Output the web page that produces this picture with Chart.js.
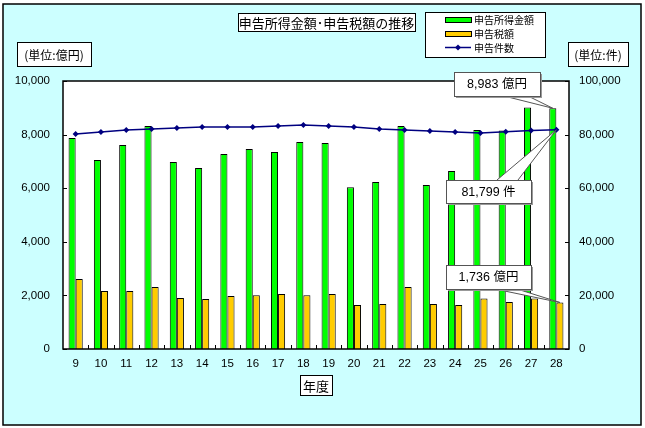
<!DOCTYPE html>
<html>
<head>
<meta charset="utf-8">
<script src="https://cdn.jsdelivr.net/npm/chart.js@4.4.1/dist/chart.umd.min.js"></script>
<style>
  html, body { margin: 0; padding: 0; background: #fff; }
  canvas { display: block; }
</style>
</head>
<body>
<canvas id="grafico" width="645" height="428" style="width:645px;height:428px"></canvas>
<script>
// dados (年度 = 平成)
const anos = ['9', '10', '11', '12', '13', '14', '15', '16', '17', '18', '19', '20', '21', '22', '23', '24', '25', '26', '27', '28'];
const rendaDeclarada = [7870, 7050, 7610, 8320, 6980, 6750, 7280, 7460, 7350, 7720, 7690, 6040, 6230, 8320, 6120, 6640, 8170, 8150, 9010, 8983];
const impostoDeclarado = [2610, 2160, 2160, 2310, 1900, 1870, 1980, 2010, 2050, 2010, 2050, 1640, 1680, 2310, 1680, 1640, 1880, 1750, 1880, 1736];
const numeroDeclaracoes = [80200, 81000, 81700, 82100, 82500, 82800, 82800, 82800, 83200, 83600, 83200, 82800, 82100, 81700, 81300, 81000, 80600, 81100, 81500, 81799];
const ticksEsquerda = [0, 2000, 4000, 6000, 8000, 10000];
const ticksDireita = [0, 20000, 40000, 60000, 80000, 100000];

const NUM = "'Liberation Sans', Arial, 'Noto Sans CJK JP', sans-serif";
const JP = "'Noto Sans CJK JP', sans-serif";
const VERDE = '#00FF00';
const AMARELO = '#FFCC00';
const AZUL = '#000080';

// Caixa com texto centralizado
function caixa(ctx, x, y, w, h, texto, fonte) {
  ctx.fillStyle = '#fff';
  ctx.fillRect(x, y, w, h);
  ctx.strokeStyle = '#000';
  ctx.lineWidth = 1;
  ctx.strokeRect(x + 0.5, y + 0.5, w, h);
  ctx.fillStyle = '#000';
  ctx.font = fonte;
  ctx.textAlign = 'center';
  ctx.textBaseline = 'middle';
  ctx.fillText(texto, x + w / 2, y + h / 2 + 1);
}

// Balão de destaque apontando para um elemento
function balao(ctx, b, baseY, bx1, bx2, ponta, texto) {
  ctx.beginPath();
  ctx.moveTo(bx1, baseY);
  ctx.lineTo(ponta.x, ponta.y);
  ctx.lineTo(bx2, baseY);
  ctx.fillStyle = '#fff';
  ctx.fill();
  ctx.strokeStyle = '#555';
  ctx.lineWidth = 1;
  ctx.stroke();
  // sombra
  ctx.fillStyle = '#999';
  ctx.fillRect(b.x + 2, b.y + 2, b.w, b.h);
  ctx.fillStyle = '#fff';
  ctx.fillRect(b.x, b.y, b.w, b.h);
  ctx.strokeStyle = '#555';
  ctx.strokeRect(b.x + 0.5, b.y + 0.5, b.w, b.h);
  ctx.fillStyle = '#000';
  ctx.font = '12.5px ' + NUM;
  ctx.textAlign = 'center';
  ctx.textBaseline = 'middle';
  ctx.fillText(texto, b.x + b.w / 2, b.y + b.h / 2 + 1);
}

const decoracao = {
  id: 'decoracao',
  beforeDraw(chart) {
    const ctx = chart.ctx;
    const a = chart.chartArea;
    ctx.save();
    ctx.fillStyle = '#fff';
    ctx.fillRect(0, 0, chart.width, chart.height);
    ctx.fillStyle = '#CCFFFF';
    ctx.fillRect(3, 4, 638, 421);
    ctx.strokeStyle = '#000';
    ctx.lineWidth = 1.5;
    ctx.strokeRect(3, 4, 638, 421);
    ctx.fillStyle = '#fff';
    ctx.fillRect(a.left, a.top, a.right - a.left, a.bottom - a.top);
    ctx.restore();
  },
  afterDraw(chart) {
    const ctx = chart.ctx;
    const a = chart.chartArea;
    const sy = chart.scales.y, sy1 = chart.scales.y1;
    ctx.save();

    // borda da área do gráfico
    ctx.strokeStyle = '#000';
    ctx.lineWidth = 1.5;
    ctx.strokeRect(a.left, a.top, a.right - a.left, a.bottom - a.top);

    // marcas internas
    ctx.lineWidth = 1;
    ctx.beginPath();
    const passo = (a.right - a.left) / anos.length;
    for (let i = 1; i < anos.length; i++) {
      const x = Math.round(a.left + i * passo) + 0.5;
      ctx.moveTo(x, a.bottom);
      ctx.lineTo(x, a.bottom - 4);
    }
    ticksEsquerda.forEach(v => {
      const y = Math.round(sy.getPixelForValue(v)) + 0.5;
      ctx.moveTo(a.left, y);
      ctx.lineTo(a.left + 4, y);
    });
    ticksDireita.forEach(v => {
      const y = Math.round(sy1.getPixelForValue(v)) + 0.5;
      ctx.moveTo(a.right, y);
      ctx.lineTo(a.right - 4, y);
    });
    ctx.stroke();

    // títulos e unidades
    caixa(ctx, 238, 13, 177, 18, '申告所得金額･申告税額の推移', '13px ' + JP);
    caixa(ctx, 17, 42, 74, 24, '(単位:億円)', '12px ' + JP);
    caixa(ctx, 568, 42, 60, 24, '(単位:件)', '12px ' + JP);
    caixa(ctx, 300, 375, 32, 20, '年度', '13px ' + JP);

    // legenda
    ctx.fillStyle = '#fff';
    ctx.fillRect(425, 12, 120, 45);
    ctx.strokeStyle = '#000';
    ctx.strokeRect(425.5, 12.5, 120, 45);
    const itens = [
      { txt: '申告所得金額', cor: VERDE, y: 20 },
      { txt: '申告税額', cor: AMARELO, y: 34 },
      { txt: '申告件数', cor: AZUL, y: 47.5, linha: true }
    ];
    itens.forEach(it => {
      if (it.linha) {
        ctx.strokeStyle = AZUL;
        ctx.lineWidth = 1.5;
        ctx.beginPath();
        ctx.moveTo(445, it.y);
        ctx.lineTo(471, it.y);
        ctx.stroke();
        ctx.fillStyle = AZUL;
        ctx.beginPath();
        ctx.moveTo(458, it.y - 3);
        ctx.lineTo(461, it.y);
        ctx.lineTo(458, it.y + 3);
        ctx.lineTo(455, it.y);
        ctx.closePath();
        ctx.fill();
      } else {
        ctx.fillStyle = it.cor;
        ctx.fillRect(445, it.y - 2, 26, 4);
        ctx.strokeStyle = '#000';
        ctx.lineWidth = 1;
        ctx.strokeRect(445.5, it.y - 2.5, 26, 5);
      }
      ctx.fillStyle = '#000';
      ctx.font = '10px ' + JP;
      ctx.textAlign = 'left';
      ctx.textBaseline = 'middle';
      ctx.fillText(it.txt, 474, it.y + 0.5);
    });

    // balões no último ano
    const ult = anos.length - 1;
    const barraVerde = chart.getDatasetMeta(0).data[ult];
    const barraAmarela = chart.getDatasetMeta(1).data[ult];
    const ponto = chart.getDatasetMeta(2).data[ult];
    balao(ctx, { x: 454, y: 72, w: 86, h: 24 }, 96, 504, 528,
      { x: barraVerde.x, y: barraVerde.y }, rendaDeclarada[ult].toLocaleString('en-US') + ' 億円');
    balao(ctx, { x: 446, y: 180, w: 85, h: 23 }, 180, 497, 518,
      { x: ponto.x, y: ponto.y }, numeroDeclaracoes[ult].toLocaleString('en-US') + ' 件');
    balao(ctx, { x: 446, y: 265, w: 85, h: 24 }, 289, 495, 517,
      { x: barraAmarela.x, y: barraAmarela.y }, impostoDeclarado[ult].toLocaleString('en-US') + ' 億円');

    ctx.restore();
  }
};

const ctx = document.getElementById('grafico').getContext('2d');
new Chart(ctx, {
  type: 'bar',
  data: {
    labels: anos,
    datasets: [
      {
        label: '申告所得金額',
        data: rendaDeclarada,
        backgroundColor: VERDE,
        borderColor: '#000',
        borderWidth: 1,
        yAxisID: 'y',
        order: 2,
        categoryPercentage: 0.56,
        barPercentage: 1.0
      },
      {
        label: '申告税額',
        data: impostoDeclarado,
        backgroundColor: AMARELO,
        borderColor: '#000',
        borderWidth: 1,
        yAxisID: 'y',
        order: 2,
        categoryPercentage: 0.56,
        barPercentage: 1.0
      },
      {
        type: 'line',
        label: '申告件数',
        data: numeroDeclaracoes,
        borderColor: AZUL,
        backgroundColor: AZUL,
        borderWidth: 1.5,
        pointStyle: 'rectRot',
        pointRadius: 3,
        pointBorderWidth: 0,
        tension: 0,
        yAxisID: 'y1',
        order: 0
      }
    ]
  },
  options: {
    responsive: false,
    devicePixelRatio: 1,
    animation: false,
    layout: { padding: { left: 0, right: 0, top: 81, bottom: 0 } },
    plugins: {
      legend: { display: false },
      tooltip: { enabled: false }
    },
    scales: {
      x: {
        grid: { display: false, drawTicks: false },
        border: { display: false },
        ticks: { color: '#000', font: { family: NUM, size: 11.5 }, padding: 8, maxRotation: 0, autoSkip: false },
        afterFit(s) { s.height = 79; }
      },
      y: {
        position: 'left',
        min: 0,
        max: 10000,
        afterBuildTicks(s) { s.ticks = ticksEsquerda.map(v => ({ value: v })); },
        grid: { display: false, drawTicks: false },
        border: { display: false },
        ticks: {
          color: '#000',
          font: { family: NUM, size: 11.5 },
          padding: 13,
          callback: v => v.toLocaleString('en-US')
        },
        afterFit(s) { s.width = 63; }
      },
      y1: {
        position: 'right',
        min: 0,
        max: 100000,
        afterBuildTicks(s) { s.ticks = ticksDireita.map(v => ({ value: v })); },
        grid: { display: false, drawTicks: false },
        border: { display: false },
        ticks: {
          color: '#000',
          font: { family: NUM, size: 11.5 },
          padding: 10,
          callback: v => v.toLocaleString('en-US')
        },
        afterFit(s) { s.width = 76; }
      }
    }
  },
  plugins: [decoracao]
});
</script>
</body>
</html>
